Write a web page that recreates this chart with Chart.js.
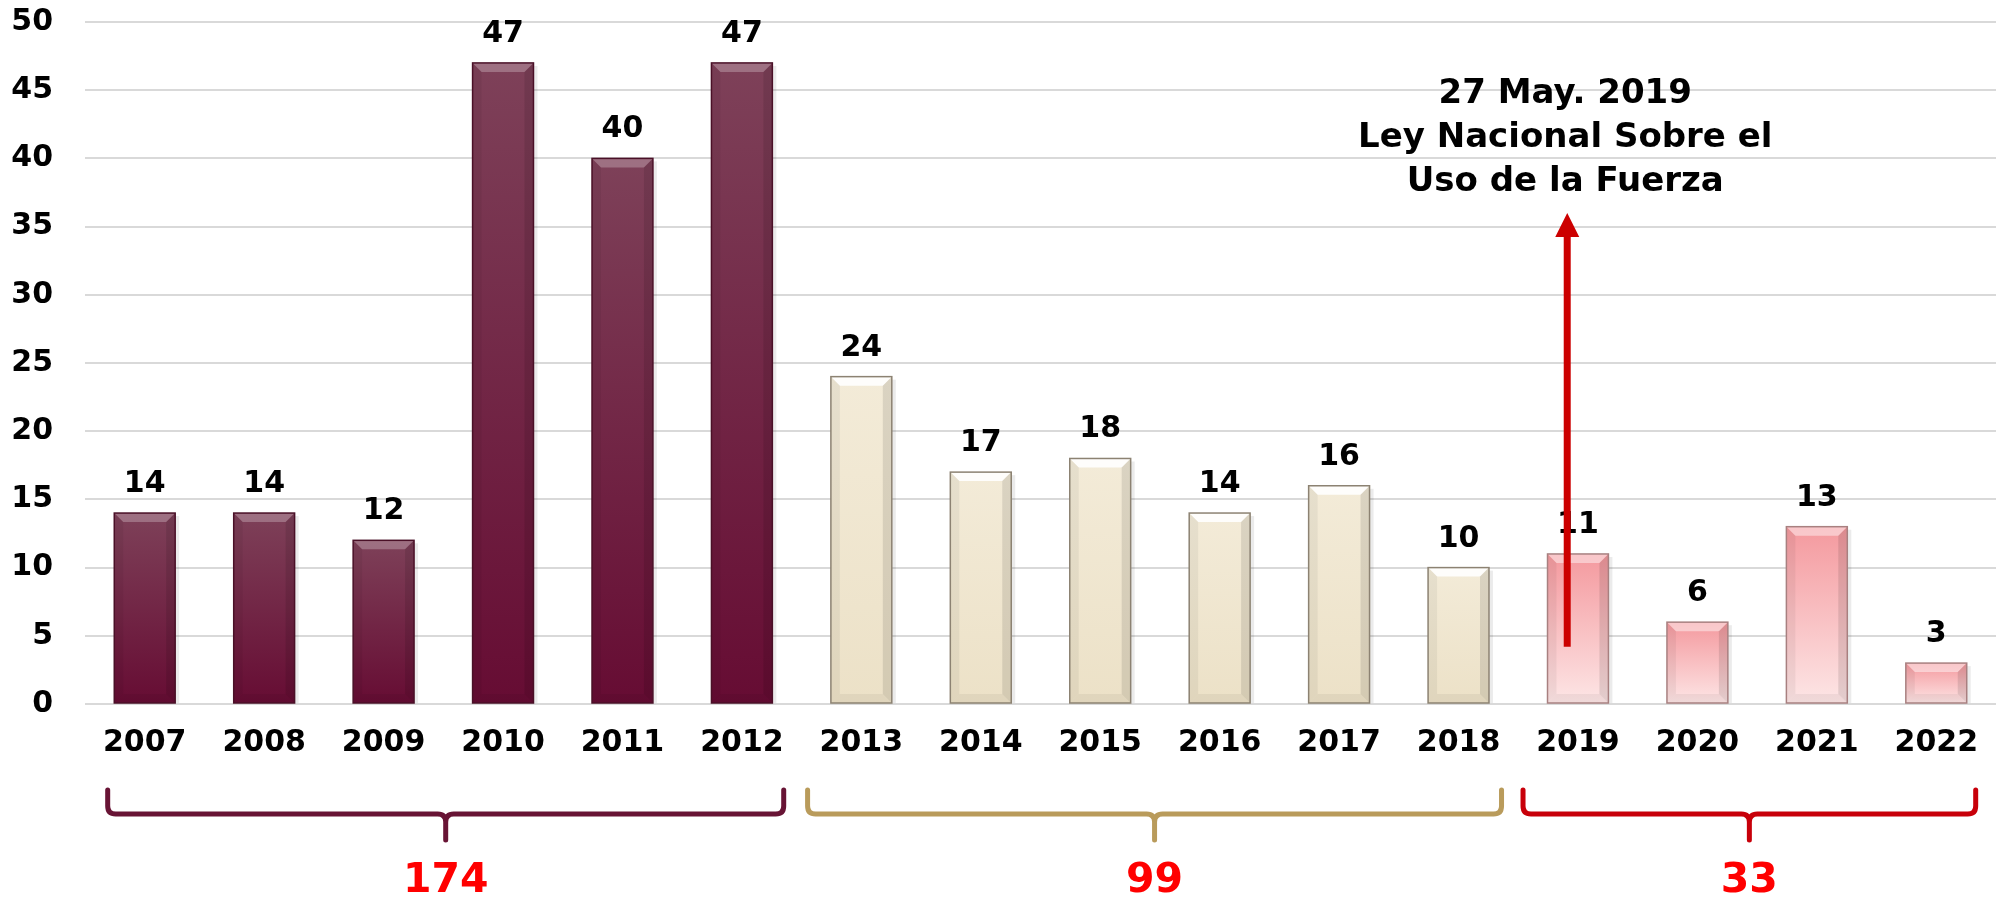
<!DOCTYPE html>
<html>
<head>
<meta charset="utf-8">
<script src="https://cdn.jsdelivr.net/npm/chart.js@4"></script>
<style>
  html, body { margin: 0; padding: 0; background: #ffffff; }
  #wrap { width: 2003px; height: 902px; position: relative; }
</style>
</head>
<body>
<div id="wrap"><canvas id="usoChart"></canvas></div>
<script>
// data
const years = ['2007', '2008', '2009', '2010', '2011', '2012', '2013', '2014',
  '2015', '2016', '2017', '2018', '2019', '2020', '2021', '2022'];
const casos = [14, 14, 12, 47, 40, 47, 24, 17, 18, 14, 16, 10, 11, 6, 13, 3];
const yMin = 0, yMax = 50, yStep = 5;

// three periods under the braces
const groupStart = [0, 6, 12];
const groupEnd = [5, 11, 15];
const groupTotals = ['174', '99', '33'];

// annotation arrow
const notaLines = ['27 May. 2019', 'Ley Nacional Sobre el', 'Uso de la Fuerza'];
const notaYear = '2019';
const arrowFrom = 4.2;
const arrowTo = 36;

// styling
const FONT = "'DejaVu Sans', sans-serif";
const palette = [
  { top: '#7e4159', bottom: '#660c33', edge: '#4a1027', shine: 'rgba(255,255,255,0.25)', brace: '#681435' },
  { top: '#f3ebd8', bottom: '#ece1c7', edge: '#8c8272', shine: 'rgba(255,255,255,0.9)', brace: '#b99b5b' },
  { top: '#f4999e', bottom: '#fde6e6', edge: '#a88080', shine: 'rgba(255,255,255,0.45)', brace: '#c8000a' }
];
const braceLeftPad = [0.31, 0.45, 0.46];
const braceRightPad = [0.35, 0.36, 0.33];

function groupOf(i) {
  for (let g = 0; g < groupStart.length; g++) {
    if (i >= groupStart[g] && i <= groupEnd[g]) return g;
  }
  return 0;
}

function barFill(ctx) {
  const chart = ctx.chart;
  const p = palette[groupOf(ctx.dataIndex)];
  const ys = chart.scales.y;
  if (!chart.chartArea || !ys) return p.bottom;
  const top = ys.getPixelForValue(ctx.raw);
  const base = ys.getPixelForValue(0);
  const g = chart.ctx.createLinearGradient(0, top, 0, base);
  g.addColorStop(0, p.top);
  g.addColorStop(1, p.bottom);
  return g;
}

const decorPlugin = {
  id: 'decor',
  afterDatasetsDraw(chart) {
    const ctx = chart.ctx;
    const meta = chart.getDatasetMeta(0);
    const xs = chart.scales.x;
    const ys = chart.scales.y;
    const area = chart.chartArea;

    // bevel + value labels
    meta.data.forEach((el, i) => {
      const { x, y, base, width } = el.getProps(['x', 'y', 'base', 'width'], true);
      const p = palette[groupOf(i)];
      const l = x - width / 2, r = x + width / 2;
      const b = Math.min(9, (base - y) / 2);
      ctx.save();
      // soft shadow to the right
      ctx.fillStyle = 'rgba(0,0,0,0.08)';
      ctx.fillRect(r, y + 3, 4, base - y - 3);
      ctx.fillStyle = p.shine;
      ctx.beginPath();
      ctx.moveTo(l, y); ctx.lineTo(r, y); ctx.lineTo(r - b, y + b); ctx.lineTo(l + b, y + b);
      ctx.closePath(); ctx.fill();
      ctx.fillStyle = 'rgba(0,0,0,0.05)';
      ctx.beginPath();
      ctx.moveTo(l, y); ctx.lineTo(l + b, y + b); ctx.lineTo(l + b, base - b); ctx.lineTo(l, base);
      ctx.closePath(); ctx.fill();
      ctx.fillStyle = 'rgba(0,0,0,0.10)';
      ctx.beginPath();
      ctx.moveTo(r, y); ctx.lineTo(r - b, y + b); ctx.lineTo(r - b, base - b); ctx.lineTo(r, base);
      ctx.closePath(); ctx.fill();
      ctx.fillStyle = 'rgba(0,0,0,0.05)';
      ctx.beginPath();
      ctx.moveTo(l, base); ctx.lineTo(l + b, base - b); ctx.lineTo(r - b, base - b); ctx.lineTo(r, base);
      ctx.closePath(); ctx.fill();
      ctx.strokeStyle = p.edge;
      ctx.lineWidth = 1.5;
      ctx.strokeRect(l, y, width, base - y);
      ctx.restore();

      ctx.save();
      ctx.fillStyle = '#000000';
      ctx.font = 'bold 30px ' + FONT;
      ctx.textAlign = 'center';
      ctx.textBaseline = 'alphabetic';
      ctx.fillText(String(casos[i]), x, y - 21);
      ctx.restore();
    });

    // braces and totals
    const step = xs.getPixelForValue(1) - xs.getPixelForValue(0);
    groupStart.forEach((s, g) => {
      const left = xs.getPixelForValue(s) - braceLeftPad[g] * step;
      const right = xs.getPixelForValue(groupEnd[g]) + braceRightPad[g] * step;
      const cx = (left + right) / 2;
      const top = area.bottom + 86, mid = area.bottom + 110, tip = area.bottom + 136;
      const rr = 8;
      ctx.save();
      ctx.strokeStyle = palette[g].brace;
      ctx.lineWidth = 5;
      ctx.lineCap = 'round';
      ctx.lineJoin = 'round';
      ctx.beginPath();
      ctx.moveTo(left, top);
      ctx.lineTo(left, mid - rr);
      ctx.quadraticCurveTo(left, mid, left + rr, mid);
      ctx.lineTo(cx - rr, mid);
      ctx.quadraticCurveTo(cx, mid, cx, mid + rr);
      ctx.lineTo(cx, tip);
      ctx.moveTo(cx, mid + rr);
      ctx.quadraticCurveTo(cx, mid, cx + rr, mid);
      ctx.lineTo(right - rr, mid);
      ctx.quadraticCurveTo(right, mid, right, mid - rr);
      ctx.lineTo(right, top);
      ctx.stroke();
      ctx.fillStyle = '#ff0000';
      ctx.font = 'bold 41px ' + FONT;
      ctx.textAlign = 'center';
      ctx.textBaseline = 'middle';
      ctx.fillText(groupTotals[g], cx, area.bottom + 177);
      ctx.restore();
    });

    // arrow + note
    const ax = xs.getPixelForValue(years.indexOf(notaYear)) - 0.09 * step;
    const y0 = ys.getPixelForValue(arrowFrom);
    const y1 = ys.getPixelForValue(arrowTo);
    ctx.save();
    ctx.strokeStyle = '#cc0000';
    ctx.fillStyle = '#cc0000';
    ctx.lineWidth = 7;
    ctx.beginPath();
    ctx.moveTo(ax, y0);
    ctx.lineTo(ax, y1 + 20);
    ctx.stroke();
    ctx.beginPath();
    ctx.moveTo(ax, y1);
    ctx.lineTo(ax - 12, y1 + 24);
    ctx.lineTo(ax + 12, y1 + 24);
    ctx.closePath();
    ctx.fill();
    ctx.fillStyle = '#000000';
    ctx.font = 'bold 34px ' + FONT;
    ctx.textAlign = 'center';
    ctx.textBaseline = 'alphabetic';
    notaLines.forEach((t, k) => {
      ctx.fillText(t, ax - 2, y1 - 22 - (notaLines.length - 1 - k) * 44);
    });
    ctx.restore();
  }
};

Chart.defaults.font.family = FONT;
Chart.defaults.color = '#000000';

new Chart(document.getElementById('usoChart'), {
  type: 'bar',
  data: {
    labels: years,
    datasets: [{
      data: casos,
      backgroundColor: barFill,
      borderWidth: 0,
      categoryPercentage: 1,
      barPercentage: 0.51
    }]
  },
  options: {
    responsive: true,
    maintainAspectRatio: false,
    animation: false,
    layout: { padding: { top: 22, right: 7, left: 0, bottom: 0 } },
    plugins: {
      legend: { display: false },
      tooltip: { enabled: false }
    },
    scales: {
      x: {
        grid: { display: false, drawTicks: false },
        border: { display: false },
        ticks: { padding: 21, font: { size: 30, weight: 'bold' }, color: '#000000', maxRotation: 0 },
        afterFit(scale) { scale.height = 198; }
      },
      y: {
        min: yMin,
        max: yMax,
        grid: { color: '#d9d9d9', lineWidth: 2, drawTicks: false },
        border: { display: false },
        ticks: { stepSize: yStep, padding: 32, font: { size: 30, weight: 'bold' }, color: '#000000' },
        afterFit(scale) {
          scale.width = 85;
          scale.paddingTop = 0;
          scale.paddingBottom = 0;
        }
      }
    }
  },
  plugins: [decorPlugin]
});
</script>
</body>
</html>
